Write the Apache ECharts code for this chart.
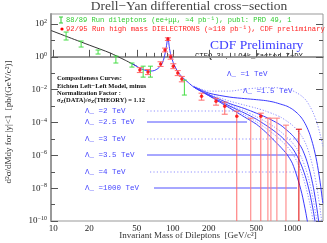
<!DOCTYPE html>
<html><head><meta charset="utf-8">
<script src="https://cdn.jsdelivr.net/npm/echarts@6/dist/echarts.min.js"></script>
<style>html,body{margin:0;padding:0;background:#fff}#c{width:327px;height:243px}</style>
</head><body><div id="c"></div>
<script>
// ---------- axis ticks / labels ----------
const xLabelTicks = [10, 20, 50, 100, 200, 500, 1000];
const xMinorTicks = [30, 40, 60, 70, 80, 90, 300, 400, 600, 700, 800, 900];
const yLabelExp = [2, 0, -2, -4, -6, -8, -10];
const yMinorExp = [1, -1, -3, -5, -7, -9];
const X_MIN = 9.57, X_MAX = 1806, Y_MIN = 1e-10, Y_MAX = 407;

// ---------- 88/89 data (green) ----------
const greenM  = [12.8, 17.1, 23.7, 33.4, 45.5, 56.5, 65, 125];
const greenV  = [18.5, 6.0, 1.96, 0.68, 0.315, 0.126, 0.126, 0.012];
const greenLo = [10.6, 3.95, 1.48, 0.42, 0.238, 0.058, 0.058, 0.0047];
const greenHi = [32.5, 9.2, 2.6, 1.12, 0.42, 0.27, 0.27, 0.038];

// ---------- 92/95 data (red) ----------
const redM  = [53, 62, 79, 86, 91, 96, 101, 110, 119, 174, 230, 272, 343, 545];
const redV  = [0.156, 0.118, 0.36, 2.6, 12.2, 0.97, 0.27, 0.102, 0.044, 4.0e-3, 2.0e-3, 9.9e-4, 2.4e-4, 2.4e-4];
const redLo = [0.11, 0.083, 0.26, 2.0, 10, 0.72, 0.19, 0.072, 0.03, 2.3e-3, 1.14e-3, 3.2e-4, null, null];
const redHi = [0.22, 0.17, 0.5, 3.4, 14.5, 1.3, 0.38, 0.145, 0.064, 6.1e-3, 3.0e-3, 1.74e-3, 4.9e-4, 3.7e-4];
// upper-limit only bins
const ulM = [449, 625, 662, 743, 885];
const ulV = [1.84e-4, 1.84e-4, 1.84e-4, 1.84e-4, 6.9e-5];
const ulDarkM = [1135];
const ulDarkV = [3.9e-5];

// ---------- theory ----------
const lowTheoryM = [9.6, 15, 20, 30, 40, 50];
const lowTheoryV = [40, 11.5, 5.2, 1.7, 0.62, 0.27];

const smLowM = [45, 50, 55, 60, 65, 70, 75, 80, 84, 87, 89, 90, 91, 92, 93, 95, 98, 102, 110, 120, 135];
const smLowV = [0.40, 0.26, 0.18, 0.146, 0.136, 0.146, 0.193, 0.315, 0.73, 2.25, 6.0, 10.6, 16, 10.6, 5.2, 1.96, 0.84, 0.36, 0.126, 0.058, 0.027];

const hiM = [150, 200, 300, 400, 500, 600, 700, 800, 900, 1000, 1100, 1200, 1300, 1400, 1500, 1600, 1700, 1800];
const lam1000 = [0.0143, 4.34e-3, 7.5e-4, 2.12e-4, 7.92e-5, 2.57e-5, 8.36e-6, 3.13e-6, 1.17e-6, 3.31e-7, 4.62e-8, 4.89e-9, 2.94e-10, 1.3e-11];
const lam4   = [0.01433, 4.34e-3, 8.63e-4, 2.8e-4, 1.12e-4, 4.52e-5, 1.94e-5, 8.36e-6, 3.6e-6, 1.35e-6, 3.8e-7, 8.11e-8, 1.14e-8, 1.2e-9, 8.3e-11];
const lam3p5 = [0.01433, 4.47e-3, 9.93e-4, 3.71e-4, 1.6e-4, 6.88e-5, 3.18e-5, 1.47e-5, 6.32e-6, 2.72e-6, 8.84e-7, 2.17e-7, 4.02e-8, 4.89e-9, 3.9e-10, 2.04e-11];
const lam3   = [0.01433, 4.66e-3, 1.14e-3, 4.92e-4, 2.27e-4, 1.12e-4, 5.57e-5, 2.76e-5, 1.27e-5, 5.89e-6, 2.36e-6, 6.67e-7, 1.42e-7, 1.99e-8, 1.83e-9, 1.1e-10, 5e-12];
const lam2p5 = [0.01433, 4.99e-3, 1.41e-3, 6.99e-4, 3.71e-4, 2.12e-4, 1.21e-4, 6.88e-5, 3.41e-5, 1.69e-5, 7.27e-6, 2.72e-6, 6.67e-7, 1.07e-7, 1.14e-8, 6.83e-10, 2.7e-11];
const lam2   = [0.01537, 5.36e-3, 2.0e-3, 1.14e-3, 7.5e-4, 4.92e-4, 3.23e-4, 2.12e-4, 1.21e-4, 6.88e-5, 3.41e-5, 1.47e-5, 4.77e-6, 1.02e-6, 1.42e-7, 1.31e-8, 6.83e-10, 2.7e-11];
const lam1p5 = [0.01537, 6.17e-3, 3.52e-3, 2.85e-3, 2.47e-3, 2.15e-3, 1.74e-3, 1.31e-3, 9.93e-4, 6.51e-4, 3.71e-4, 1.84e-4, 6.88e-5, 1.94e-5, 3.6e-6, 4.38e-7, 3.03e-8, 1.2e-9];
const lam1   = [0.0165, 8.17e-3, 8.17e-3, 0.01082, 0.01245, 0.01336, 0.01336, 0.01245, 0.01082, 8.76e-3, 6.17e-3, 4.05e-3, 2.31e-3, 9.93e-4, 3.71e-4, 1.05e-4, 2.24e-5, 3.6e-6];

// ---------- build ----------
const L = Math.log10;
function pts(ms, vs) {
  const out = [];
  for (let i = 0; i < ms.length && i < vs.length; i++) if (vs[i] != null) out.push([L(ms[i]), L(vs[i])]);
  return out;
}
function bars(ms, lo, hi) {
  const out = [];
  for (let i = 0; i < ms.length; i++) {
    const toBottom = lo == null || lo[i] == null;
    out.push([L(ms[i]), toBottom ? L(Y_MIN) : L(lo[i]), L(hi[i]), toBottom ? 0 : 1]);
  }
  return out;
}
function barRender(color, capW, lw) {
  return function (params, api) {
    const x = api.value(0), lo = api.value(1), hi = api.value(2), lowCap = api.value(3);
    const a = api.coord([x, lo]), b = api.coord([x, hi]);
    const st = { stroke: color, lineWidth: lw };
    const ch = [
      { type: 'line', shape: { x1: a[0], y1: a[1], x2: b[0], y2: b[1] }, style: st },
      { type: 'line', shape: { x1: b[0] - capW, y1: b[1], x2: b[0] + capW, y2: b[1] }, style: st }
    ];
    if (lowCap) ch.push({ type: 'line', shape: { x1: a[0] - capW, y1: a[1], x2: a[0] + capW, y2: a[1] }, style: st });
    return { type: 'group', children: ch };
  };
}
function curve(name, ms, vs, dotted) {
  return {
    name, type: 'line', data: pts(ms, vs), showSymbol: false, smooth: 0.25, clip: true,
    lineStyle: dotted ? { color: '#8f8fff', width: 1, type: [1.2, 1.6] } : { color: '#3a3aff', width: 1 },
    z: 3, silent: true
  };
}

const SERIF = '"Liberation Serif", "DejaVu Serif", serif';
const MONO = '"Liberation Mono", "DejaVu Sans Mono", monospace';
const tickCol = '#555';

const xBase = { type: 'value', min: L(X_MIN), max: L(X_MAX), gridIndex: 0, position: 'bottom', splitLine: { show: false } };
const yBase = { type: 'value', min: L(Y_MIN), max: L(Y_MAX), gridIndex: 0, splitLine: { show: false } };

const yLabelFmt = v => {
  const e = Math.round(v);
  return '{b|10}{s|' + (e < 0 ? '\u2212' + (-e) : e) + '}';
};

const blue = '#4848ff';
const lamLabels = [
  ['\u039b_ =1 TeV', 227, 74], ['\u039b_ =1.5 TeV', 243, 91],
  ['\u039b_ =2 TeV', 85, 111], ['\u039b_ =2.5 TeV', 85, 122], ['\u039b_ =3 TeV', 85, 139],
  ['\u039b_ =3.5 TeV', 85, 155], ['\u039b_ =4 TeV', 85, 172], ['\u039b_ =1000 TeV', 85, 188]
];
const lamLines = [[147, 235, 111, true], [147, 247, 122, false], [147, 299, 139, true], [147, 297, 155, false], [150, 299, 172, true], [154, 297, 188, false]];

const graphics = [];
graphics.push({ type: 'text', x: 189, y: 6, style: { text: 'Drell\u2212Yan differential cross\u2212section', font: '13.5px ' + SERIF, fill: '#444', align: 'center', verticalAlign: 'middle' } });
graphics.push({ type: 'text', x: 9, y: 122, rotation: Math.PI / 2, style: { text: 'd\u00b2\u03c3/dMdy for |y|<1  [pb/(GeV/c\u00b2)]', font: '9px ' + SERIF, fill: '#333', align: 'center', verticalAlign: 'middle' } });
graphics.push({ type: 'text', x: 188, y: 236, style: { text: 'Invariant Mass of Dileptons  [GeV/c\u00b2]', font: '9px ' + SERIF, fill: '#333', align: 'center', verticalAlign: 'middle' } });
// legend
graphics.push({ type: 'line', shape: { x1: 61, y1: 17, x2: 61, y2: 23 }, style: { stroke: '#33cc33', lineWidth: 1 } });
graphics.push({ type: 'line', shape: { x1: 59, y1: 17, x2: 63, y2: 17 }, style: { stroke: '#33cc33', lineWidth: 1 } });
graphics.push({ type: 'line', shape: { x1: 59, y1: 23, x2: 63, y2: 23 }, style: { stroke: '#33cc33', lineWidth: 1 } });
graphics.push({ type: 'text', x: 66, y: 20, style: { text: '88/89 Run dileptons (ee+\u03bc\u03bc, \u22484 pb\u207b\u00b9), publ: PRD 49, 1', font: '7.1px ' + MONO, fill: '#33cc33', align: 'left', verticalAlign: 'middle' } });
graphics.push({ type: 'circle', shape: { cx: 62, cy: 29, r: 1.6 }, style: { fill: '#ff0000' } });
graphics.push({ type: 'text', x: 66, y: 29, style: { text: '92/95 Run high mass DIELECTRONS (\u2248110 pb\u207b\u00b9), CDF preliminary', font: '7.2px ' + MONO, fill: '#ff2222', align: 'left', verticalAlign: 'middle' } });
graphics.push({ type: 'text', x: 210, y: 45.5, style: { text: 'CDF Preliminary', font: '13.5px ' + SERIF, fill: '#4040ff', align: 'left', verticalAlign: 'middle' } });
graphics.push({ type: 'line', shape: { x1: 172, y1: 56.5, x2: 192, y2: 56.5 }, style: { stroke: '#222', lineWidth: 1 } });
graphics.push({ type: 'text', x: 195, y: 56.5, style: { text: 'CTEQ 3L, LO+k_factor Z+DY', font: '7.2px ' + MONO, fill: '#111', align: 'left', verticalAlign: 'middle' } });
const compFont = 'bold 6.5px ' + SERIF;
[['Compositeness Curves:', 78], ['Eichten Left\u2212Left Model, minus', 86], ['Normalization Factor :', 93]].forEach(t => {
  graphics.push({ type: 'text', x: 57, y: t[1], style: { text: t[0], font: compFont, fill: '#111', align: 'left', verticalAlign: 'middle' } });
});
graphics.push({ type: 'text', x: 57, y: 100, style: { text: '{t|\u03c3}{s|Z}{t|(DATA)/\u03c3}{s|Z}{t|(THEORY) = 1.12}', align: 'left', verticalAlign: 'middle',
  rich: { t: { font: compFont, fill: '#111', lineHeight: 9 }, s: { font: 'bold 5px ' + SERIF, fill: '#111', verticalAlign: 'bottom', lineHeight: 9 } } } });
lamLabels.forEach(t => {
  graphics.push({ type: 'text', x: t[1], y: t[2], style: { text: t[0], font: '7.5px ' + MONO, fill: blue, align: 'left', verticalAlign: 'middle' } });
});
lamLines.forEach(l => {
  graphics.push({ type: 'line', shape: { x1: l[0], y1: l[2], x2: l[1], y2: l[2] }, style: l[3] ? { stroke: '#9090ff', lineWidth: 1, lineDash: [1.2, 2.2] } : { stroke: '#5050ff', lineWidth: 1 } });
});

const option = {
  animation: false,
  backgroundColor: '#fff',
  grid: { left: 51, right: 4, top: 14, bottom: 22, show: true, borderColor: '#999', borderWidth: 1, containLabel: false },
  xAxis: [
    Object.assign({}, xBase, {
      axisLine: { show: true, lineStyle: { color: '#999', width: 2 } },
      axisTick: { inside: true, length: 7, customValues: xLabelTicks.map(L), lineStyle: { color: tickCol } },
      axisLabel: { customValues: xLabelTicks.map(L), margin: 3, formatter: v => String(Math.round(Math.pow(10, v))), fontFamily: SERIF, fontSize: 9, color: '#222' }
    }),
    Object.assign({}, xBase, {
      axisLine: { show: false },
      axisTick: { inside: true, length: 4, customValues: xMinorTicks.map(L), lineStyle: { color: tickCol } },
      axisLabel: { show: false }
    })
  ],
  yAxis: [
    Object.assign({}, yBase, {
      position: 'left',
      axisLine: { show: true, lineStyle: { color: '#999', width: 2 } },
      axisTick: { inside: true, length: 7, customValues: yLabelExp, lineStyle: { color: tickCol } },
      axisLabel: { customValues: yLabelExp, margin: 4, formatter: yLabelFmt,
        rich: { b: { fontFamily: SERIF, fontSize: 9, color: '#222', lineHeight: 11 }, s: { fontFamily: SERIF, fontSize: 6, color: '#222', verticalAlign: 'top', lineHeight: 11 } } }
    }),
    Object.assign({}, yBase, {
      position: 'left',
      axisLine: { show: false },
      axisTick: { inside: true, length: 4, customValues: yMinorExp, lineStyle: { color: tickCol } },
      axisLabel: { show: false }
    }),
    Object.assign({}, yBase, {
      position: 'right',
      axisLine: { show: false },
      axisTick: { inside: true, length: 7, customValues: yLabelExp, lineStyle: { color: tickCol } },
      axisLabel: { show: false }
    }),
    Object.assign({}, yBase, {
      position: 'right',
      axisLine: { show: false },
      axisTick: { inside: true, length: 4, customValues: yMinorExp, lineStyle: { color: tickCol } },
      axisLabel: { show: false }
    })
  ],
  graphic: { elements: graphics },
  series: [
    { name: 'LO DY', type: 'line', data: pts(lowTheoryM, lowTheoryV), showSymbol: false, smooth: 0.25, lineStyle: { color: '#333', width: 1 }, z: 2, silent: true },
    curve('\u039b=1', hiM, lam1, true),
    curve('\u039b=1.5', hiM, lam1p5, false),
    curve('\u039b=2', hiM, lam2, true),
    curve('\u039b=2.5', hiM, lam2p5, false),
    curve('\u039b=3', hiM, lam3, true),
    curve('\u039b=3.5', hiM, lam3p5, false),
    curve('\u039b=4', hiM, lam4, true),
    curve('\u039b=1000', smLowM.concat(hiM), smLowV.concat(lam1000), false),
    { name: 'green bars', type: 'custom', data: bars(greenM, greenLo, greenHi), renderItem: barRender('#44dd44', 2.5, 1), clip: true, z: 5, silent: true },
    { name: 'red bars', type: 'custom', data: bars(redM, redLo, redHi), renderItem: barRender('#ff6a6a', 3, 1), clip: true, z: 5, silent: true },
    { name: 'red limits', type: 'custom', data: bars(ulM, null, ulV), renderItem: barRender('#ff7a7a', 3, 1), clip: true, z: 5, silent: true },
    { name: 'red limit dark', type: 'custom', data: bars(ulDarkM, null, ulDarkV), renderItem: barRender('#e00000', 3, 1), clip: true, z: 5, silent: true },
    { name: 'red pts', type: 'scatter', data: pts(redM, redV), symbol: 'circle', symbolSize: 3.5, itemStyle: { color: '#ff0000' }, z: 6, silent: true }
  ]
};
const chart = echarts.init(document.getElementById('c'), null, { renderer: 'canvas' });
chart.setOption(option);
</script>
</body></html>
